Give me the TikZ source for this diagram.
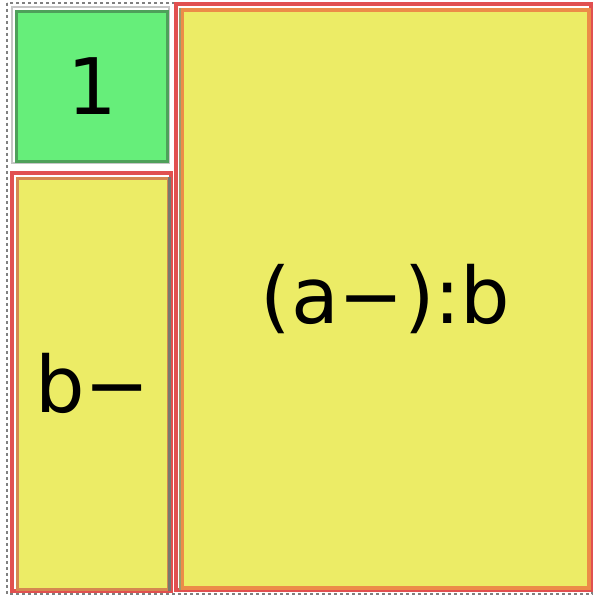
\documentclass[tikz,border=0pt]{standalone}
\usepackage{fontspec}
\setmainfont{DejaVu Sans}
\definecolor{gfill}{RGB}{102,238,122}
\definecolor{gdraw}{RGB}{78,160,90}
\definecolor{yfill}{RGB}{236,236,102}
\definecolor{redl}{RGB}{225,80,80}
\definecolor{orl}{RGB}{236,140,72}
\definecolor{grayl}{RGB}{120,120,110}
\tikzset{
  lbl/.style={font=\fontsize{78}{84}\selectfont, inner sep=0pt},
  boxg/.style={fill=gfill, draw=gdraw, line width=3pt},
  boxy/.style={fill=yfill, draw=grayl, line width=2.5pt},
  boxr/.style={fill=yfill, draw=orl, line width=4pt},
  redframe/.style={draw=redl, line width=4pt},
}
\begin{document}
\begin{tikzpicture}[x=1pt,y=-1pt]
\useasboundingbox (0,0) rectangle (594,596);
\fill[white] (0,0) rectangle (594,596);
% outer dashed frame
\draw[gray, line width=2pt, dash pattern=on 3pt off 3pt] (7,3) rectangle (592,594);
% green box
\draw[gray!45, line width=2.5pt] (12,7) rectangle (169,163);
\node[boxg, minimum width=151pt, minimum height=150pt, anchor=north west] (one) at (15,10) {};
\node[lbl] at (one.center) {1};
% left yellow
\draw[redframe] (12,173) rectangle (171,591);
\node[boxy, minimum width=151pt, minimum height=411pt, anchor=north west, draw=orl!80!grayl] (bm) at (16,177) {};
\draw[grayl, line width=2.5pt] (bm.north east) -- (bm.south east);
\node[lbl] at (bm.center) {b−};
% right yellow
\draw[redframe] (176,4) rectangle (591,590);
\node[boxr, minimum width=407pt, minimum height=578pt, anchor=north west] (ab) at (180,8) {};
\draw[grayl!70!yfill, line width=2.5pt] (ab.north west) -- (ab.south west);
\node[lbl] at (ab.center) {(a−):b};
\end{tikzpicture}
\end{document}
